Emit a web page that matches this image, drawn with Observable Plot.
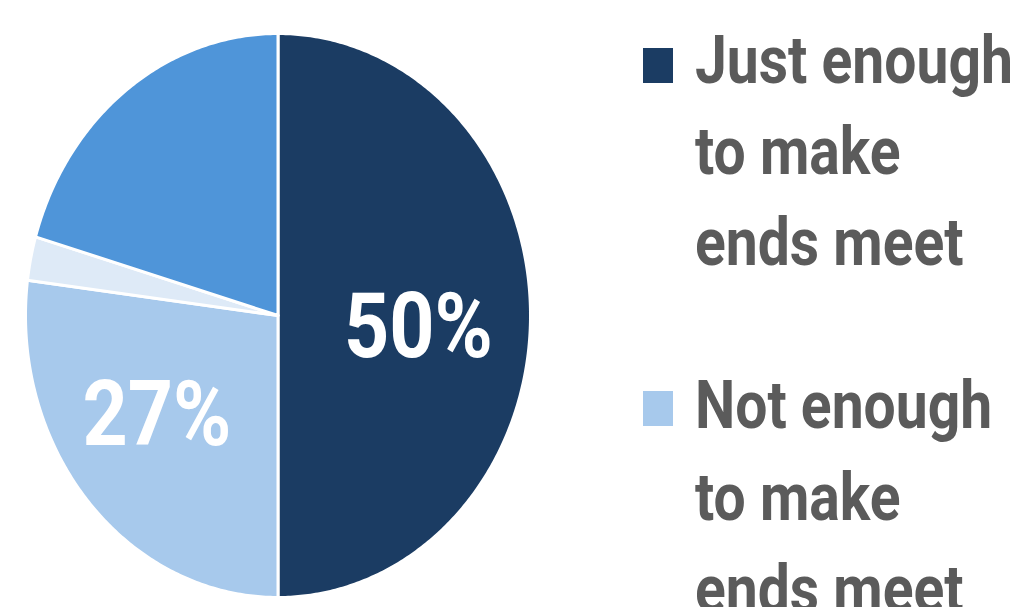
<!DOCTYPE html>
<html>
<head>
<meta charset="utf-8">
<script src="https://cdn.jsdelivr.net/npm/d3@7"></script>
<script src="https://cdn.jsdelivr.net/npm/@observablehq/plot@0.6"></script>
<style>
  html, body { margin: 0; padding: 0; background: #fff; }
  #wrap { position: relative; width: 1024px; height: 607px; overflow: hidden; }
  #legend { position: absolute; left: 0; top: 0; }
</style>
</head>
<body>
<div id="wrap"></div>
<script>
const categories = ["Just enough to make ends meet", "Not enough to make ends meet", "Don't know", "More than enough"];
const shares = [50, 27, 2.5, 20.5];
const colors = ["#1b3c63", "#a7c9ec", "#deeaf7", "#4f95d9"];
const valueLabels = ["50%", "27%", "", ""];
const legendItems = [
  {key: categories[0], lines: ["Just enough", "to make", "ends meet"]},
  {key: categories[1], lines: ["Not enough", "to make", "ends meet"]}
];

const FONT = "Roboto, 'Noto Sans', sans-serif";

const arcs = d3.pie().sort(null).value(d => d.v)(categories.map((k, i) => ({k, v: shares[i]})));
const pts = [];
for (const a of arcs) {
  const key = a.data.k;
  pts.push({key, x: 0, y: 0});
  const n = Math.max(2, Math.ceil((a.endAngle - a.startAngle) / 0.01));
  for (let j = 0; j <= n; j++) {
    const t = a.startAngle + (a.endAngle - a.startAngle) * j / n;
    pts.push({key, x: Math.sin(t), y: Math.cos(t)});
  }
}
const labelData = arcs.map((a, i) => {
  const m = (a.startAngle + a.endAngle) / 2;
  return {text: valueLabels[i], x: 0.56 * Math.sin(m), y: 0.56 * Math.cos(m)};
});

const textOpts = {x: "x", y: "y", text: "text", fill: "white", fontSize: 90, fontWeight: "bold", fontFamily: FONT};
const chart = Plot.plot({
  width: 1024,
  height: 607,
  marginLeft: 25,
  marginRight: 494,
  marginTop: 33,
  marginBottom: 10,
  x: {domain: [-1, 1], axis: null},
  y: {domain: [-1, 1], axis: null},
  color: {domain: categories, range: colors},
  style: {background: "#fff"},
  marks: [
    Plot.line(pts, {x: "x", y: "y", z: "key", fill: "key", stroke: "white", strokeWidth: 3, curve: "linear-closed"}),
    Plot.text([labelData[0]], {...textOpts, dx: -1, dy: 13}),
    Plot.text([labelData[1]], {...textOpts, dx: -15, dy: -4})
  ]
});
const wrap = document.getElementById("wrap");
wrap.appendChild(chart);
chart.querySelectorAll("text").forEach(t => {
  t.setAttribute("textLength", 149);
  t.setAttribute("lengthAdjust", "spacingAndGlyphs");
});

// Legend
const svg = d3.select(wrap).append("svg").attr("id", "legend").attr("width", 1024).attr("height", 607);
const tops = [48, 391];
const baselines = [[83, 174, 265], [428, 520, 612]];
let scale = 1;
legendItems.forEach((it, i) => {
  svg.append("rect").attr("x", 643).attr("y", tops[i]).attr("width", 30).attr("height", 35)
    .attr("fill", colors[categories.indexOf(it.key)]);
  it.lines.forEach((l, j) => {
    const t = svg.append("text").attr("font-family", FONT).attr("font-weight", "bold")
      .attr("font-size", 66).attr("fill", "#5b5b5b").text(l)
      .attr("transform", `translate(695,${baselines[i][j]})`);
    if (i === 0 && j === 0) scale = 318 / t.node().getComputedTextLength();
  });
});
svg.selectAll("text").attr("transform", function() {
  return d3.select(this).attr("transform") + ` scale(${scale},1)`;
});
</script>
</body>
</html>
